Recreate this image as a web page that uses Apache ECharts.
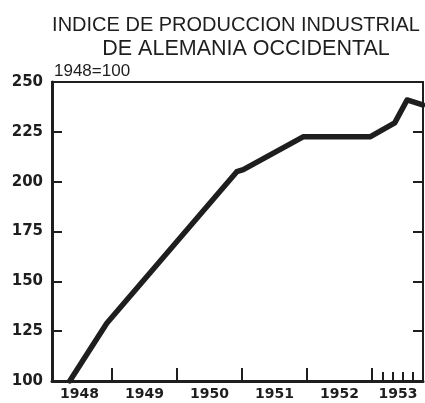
<!DOCTYPE html>
<html>
<head>
<meta charset="utf-8">
<script src="https://cdn.jsdelivr.net/npm/echarts@6/dist/echarts.min.js"></script>
<style>
  html, body { margin: 0; padding: 0; background: #fff; }
  #chart { width: 425px; height: 403px; }
</style>
</head>
<body>
<div id="chart"></div>
<script>
var years = [1948.35, 1948.92, 1950.92, 1951.02, 1951.94, 1952.97, 1953.35, 1953.54, 1953.78];
var indexValues = [100, 129, 205, 206, 222.5, 222.5, 229.5, 241, 238.5];

var yearTicks = [1949, 1950, 1951, 1952, 1953];
var monthTicks1953 = [1953.17, 1953.32, 1953.48, 1953.63];
var yearLabelPos = [1948.5, 1949.5, 1950.5, 1951.5, 1952.5, 1953.4];
var yearLabels = ['1948', '1949', '1950', '1951', '1952', '1953'];

var ink = '#1e1e1e';

var points = [];
for (var i = 0; i < years.length; i++) {
    points.push([years[i], indexValues[i]]);
}

var myChart = echarts.init(document.getElementById('chart'));

var option = {
    animation: false,
    title: [
        {
            text: 'INDICE DE PRODUCCION INDUSTRIAL',
            left: 231, top: 10, textAlign: 'center',
            textStyle: {fontFamily: 'Liberation Sans', fontSize: 20, fontWeight: 'normal', color: ink}
        },
        {
            text: 'DE ALEMANIA OCCIDENTAL',
            left: 241, top: 33, textAlign: 'center',
            textStyle: {fontFamily: 'Liberation Sans', fontSize: 21.5, fontWeight: 'normal', color: ink}
        },
        {
            text: '1948=100',
            left: 49, top: 58,
            textStyle: {fontFamily: 'Liberation Sans', fontSize: 17, fontWeight: 'normal', color: ink}
        }
    ],
    grid: {
        left: 52, right: 2, top: 82, bottom: 22,
        show: true, borderColor: ink, borderWidth: 2
    },
    xAxis: [
        {
            type: 'value', min: 1948.077, max: 1953.785,
            axisLine: {show: true, onZero: false, lineStyle: {color: ink, width: 3}},
            axisTick: {show: true, inside: true, length: 13, lineStyle: {color: ink, width: 2}, customValues: yearTicks},
            axisLabel: {
                show: true, margin: 6, color: ink,
                fontFamily: 'DejaVu Sans', fontSize: 14, fontWeight: 'bold',
                customValues: yearLabelPos,
                formatter: function(v){
                    var k = yearLabelPos.indexOf(v);
                    return k >= 0 ? yearLabels[k] : '';
                }
            },
            splitLine: {show: false}
        },
        {
            type: 'value', min: 1948.077, max: 1953.785, position: 'bottom',
            axisLine: {show: false},
            axisTick: {show: true, inside: true, length: 9, lineStyle: {color: ink, width: 2}, customValues: monthTicks1953},
            axisLabel: {show: false},
            splitLine: {show: false}
        }
    ],
    yAxis: [
        {
            type: 'value', min: 100, max: 250, interval: 25,
            axisLine: {show: true, lineStyle: {color: ink, width: 3}},
            axisTick: {show: true, inside: true, length: 10, lineStyle: {color: ink, width: 2}},
            axisLabel: {margin: 9, color: ink, fontFamily: 'DejaVu Sans', fontSize: 15, fontWeight: 'bold'},
            splitLine: {show: false}
        },
        {
            type: 'value', min: 100, max: 250, interval: 25, position: 'right',
            axisLine: {show: true, lineStyle: {color: ink, width: 2}},
            axisTick: {show: true, inside: true, length: 10, lineStyle: {color: ink, width: 2}},
            axisLabel: {show: false},
            splitLine: {show: false}
        }
    ],
    series: [
        {
            name: 'Indice',
            type: 'line',
            xAxisIndex: 0,
            yAxisIndex: 0,
            data: points,
            showSymbol: false,
            clip: true,
            lineStyle: {color: ink, width: 5.5, join: 'round', cap: 'round'}
        }
    ]
};

myChart.setOption(option);
</script>
</body>
</html>
